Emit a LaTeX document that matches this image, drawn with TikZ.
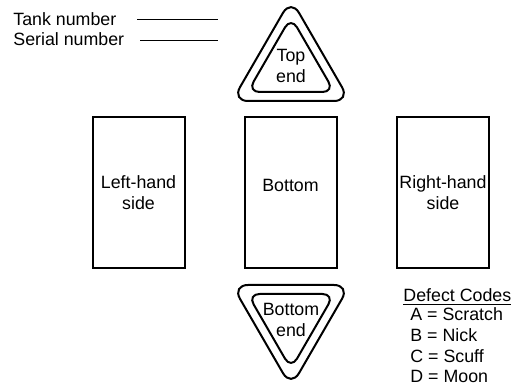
\documentclass[tikz,border=0pt]{standalone}
\usepackage{fontspec}
\setmainfont{Liberation Sans}
\usepackage{tikz}
\usetikzlibrary{positioning}
\tikzset{
	sidebox/.style={draw, line width=1pt, minimum width=46pt, minimum height=75.5pt, inner sep=0pt},
	boxtext/.style={align=center, inner sep=0pt},
	endline/.style={line width=1pt},
	leader/.style={line width=0.5pt},
	plain/.style={anchor=base west, inner sep=0pt}
}
\begin{document}
\begin{tikzpicture}[x=0.5pt, y=-0.5pt, font=\fontsize{8.9}{10.5}\selectfont]
		\useasboundingbox (0,0) rectangle (513,384);
		\node[plain] (tank) at (13,26) {Tank number};
		\node[plain] (serial) at (13,46) {Serial number};
		\coordinate (tankA) at (137,20);
		\coordinate (tankB) at (218,20);
		\coordinate (serialA) at (140,41);
		\coordinate (serialB) at (218,41);
		\draw[leader] (tankA) -- (tankB);
		\draw[leader] (serialA) -- (serialB);
		\draw[endline, rounded corners=8pt] (291,-1) -- (350,101) -- (232,101) -- cycle;
		\draw[endline, rounded corners=6pt] (291,17) -- (334.4,92) -- (247.6,92) -- cycle;
		\node[boxtext] (topend) at (291,66) {Top\\end};
		\node[sidebox] (lhs) at (138.5,193) {};
		\node[sidebox] (btm) at (290.5,193) {};
		\node[sidebox] (rhs) at (443,193) {};
		\node[boxtext] (lhstext) at (lhs.center) {Left-hand\\side};
		\node[boxtext] (btmtext) at (290.5,185) {Bottom};
		\node[boxtext] (rhstext) at (rhs.center) {Right-hand\\side};
		\draw[endline, rounded corners=8pt] (291,387) -- (350,285) -- (232,285) -- cycle;
		\draw[endline, rounded corners=6pt] (291,369) -- (334.4,294) -- (247.6,294) -- cycle;
		\node[boxtext] (btmend) at (291,320) {Bottom\\end};
		\node[plain] (codes) at (403,301) {\underline{Defect Codes}};
		\foreach \code/\name [count=\i] in {A/Scratch, B/Nick, C/Scuff, D/Moon}
			\node[plain] (code\i) at (410,{300.5+20.5*\i}) {\code\ = \name};
	\end{tikzpicture}
\end{document}
